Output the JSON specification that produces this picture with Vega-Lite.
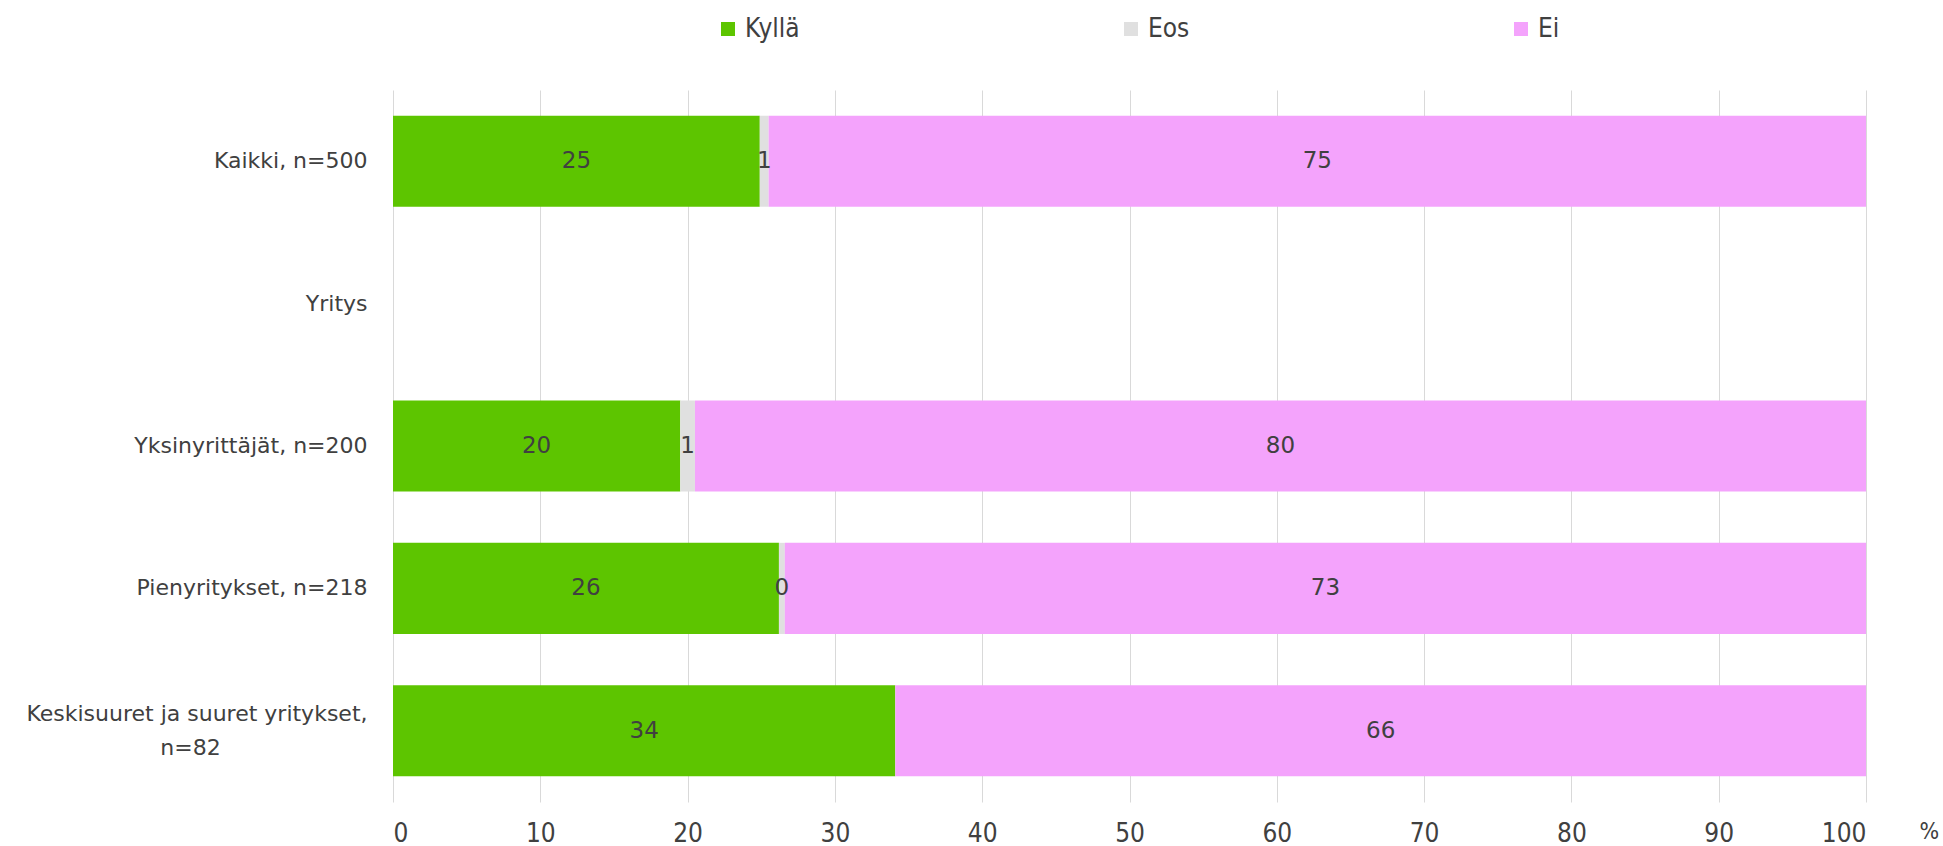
{
  "$schema": "https://vega.github.io/schema/vega-lite/v6.json",
  "width": 1473,
  "height": 712,
  "autosize": {"type": "none"},
  "padding": {"left": 393, "top": 90, "right": 77, "bottom": 44},
  "background": "white",
  "config": {"view": {"stroke": null}},
  "data": {
    "values": [
      {"cat": "Kaikki, n=500", "resp": "Kyllä", "value": 24.9},
      {"cat": "Kaikki, n=500", "resp": "Eos", "value": 0.6},
      {"cat": "Kaikki, n=500", "resp": "Ei", "value": 74.5},
      {"cat": "Yksinyrittäjät, n=200", "resp": "Kyllä", "value": 19.5},
      {"cat": "Yksinyrittäjät, n=200", "resp": "Eos", "value": 1.0},
      {"cat": "Yksinyrittäjät, n=200", "resp": "Ei", "value": 79.5},
      {"cat": "Pienyritykset, n=218", "resp": "Kyllä", "value": 26.2},
      {"cat": "Pienyritykset, n=218", "resp": "Eos", "value": 0.4},
      {"cat": "Pienyritykset, n=218", "resp": "Ei", "value": 73.4},
      {"cat": "Keskisuuret ja suuret yritykset,|n=82", "resp": "Kyllä", "value": 34.1},
      {"cat": "Keskisuuret ja suuret yritykset,|n=82", "resp": "Ei", "value": 65.9}
    ]
  },
  "transform": [
    {"stack": "value", "groupby": ["cat"], "sort": [{"field": "resp", "order": "descending"}], "as": ["v0", "v1"]},
    {"calculate": "(datum.v0 + datum.v1) / 2", "as": "mid"}
  ],
  "encoding": {
    "y": {
      "field": "cat",
      "type": "nominal",
      "title": null,
      "scale": {
        "domain": ["Kaikki, n=500", "Yritys", "Yksinyrittäjät, n=200", "Pienyritykset, n=218", "Keskisuuret ja suuret yritykset,|n=82"],
        "paddingInner": 0.36,
        "paddingOuter": 0.18
      },
      "axis": {
        "domain": false,
        "ticks": false,
        "grid": false,
        "labelPadding": 26,
        "labelFont": "DejaVu Sans",
        "labelFontSize": 22,
        "labelColor": "#404040",
        "labelLimit": 600,
        "labelLineHeight": 34,
        "labelOffset": {"condition": {"test": "indexof(datum.value, 'Keski') >= 0", "value": -17}, "value": 0},
        "labelExpr": "indexof(datum.label, '|') >= 0 ? [split(datum.label, '|')[0], split(datum.label, '|')[1] + '\u00a0\u00a0\u00a0\u00a0\u00a0\u00a0\u00a0\u00a0\u00a0\u00a0\u00a0\u00a0\u00a0\u00a0\u00a0\u00a0\u00a0\u00a0\u00a0\u00a0\u00a0\u200b'] : datum.label"
      }
    }
  },
  "layer": [
    {
      "mark": {"type": "bar"},
      "encoding": {
        "x": {
          "field": "v0",
          "type": "quantitative",
          "scale": {"domain": [0, 100], "nice": false},
          "axis": {
            "values": [0, 10, 20, 30, 40, 50, 60, 70, 80, 90, 100],
            "grid": true,
            "gridColor": "#D9D9D9",
            "gridWidth": 1,
            "domain": false,
            "ticks": false,
            "labelPadding": 18,
            "labelFont": "Liberation Sans Narrow, DejaVu Sans Condensed, sans-serif",
            "labelFontSize": 26,
            "labelColor": "#404040",
            "labelFontWeight": "normal",
            "title": "%",
            "titleX": 1526,
            "titleY": 29,
            "titleAngle": 0,
            "titleAlign": "left",
            "titleBaseline": "middle",
            "titleFont": "Liberation Sans Narrow, DejaVu Sans Condensed, sans-serif",
            "titleFontSize": 23,
            "titleFontWeight": "normal",
            "titleColor": "#404040"
          }
        },
        "x2": {"field": "v1"},
        "color": {
          "field": "resp",
          "type": "nominal",
          "scale": {"domain": ["Kyllä", "Eos", "Ei"], "range": ["#5DC500", "#E0E0E0", "#F4A3FC"]},
          "legend": {
            "orient": "none",
            "legendX": 322,
            "legendY": -74,
            "direction": "horizontal",
            "title": null,
            "symbolType": "square",
            "symbolSize": 196,
            "symbolStrokeWidth": 0,
            "labelFont": "Liberation Sans Narrow, DejaVu Sans Condensed, sans-serif",
            "labelFontSize": 26,
            "labelColor": "#404040",
            "labelOffset": 4,
            "columnPadding": 318
          }
        }
      }
    },
    {
      "mark": {"type": "text", "font": "DejaVu Sans", "fontSize": 23, "color": "#404040", "baseline": "middle", "align": "center"},
      "encoding": {
        "x": {"field": "mid", "type": "quantitative"},
        "text": {"field": "value", "type": "quantitative", "format": ".0f"}
      }
    }
  ]
}
